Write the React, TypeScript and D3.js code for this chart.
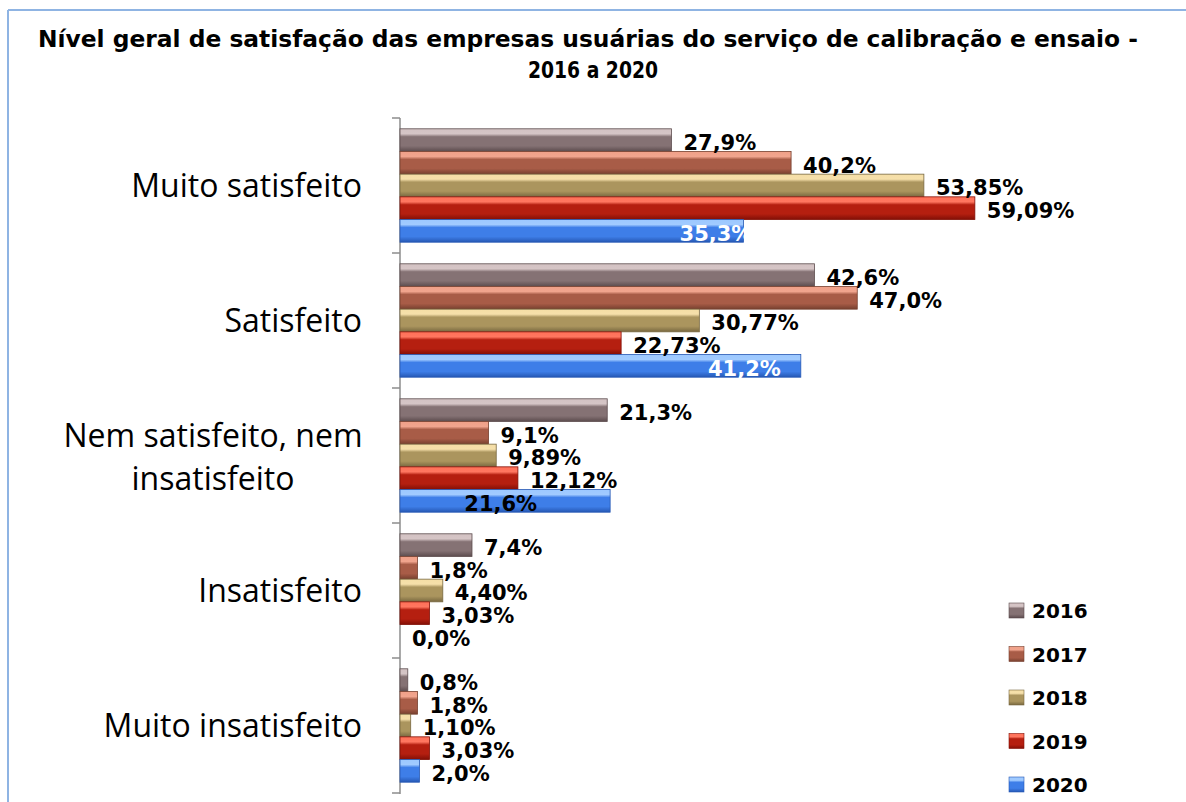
import React from "react";
import * as d3 from "d3";

const TITLE_LINES = [
  "Nível geral de satisfação das empresas usuárias do serviço de calibração e ensaio -",
  "2016 a 2020",
];
const CATEGORIES = [
  ["Muito satisfeito"],
  ["Satisfeito"],
  ["Nem satisfeito, nem", "insatisfeito"],
  ["Insatisfeito"],
  ["Muito insatisfeito"],
];
const YEARS = ["2016", "2017", "2018", "2019", "2020"];
const V2016 = [27.9, 42.6, 21.3, 7.4, 0.8];
const V2017 = [40.2, 47.0, 9.1, 1.8, 1.8];
const V2018 = [53.85, 30.77, 9.89, 4.4, 1.1];
const V2019 = [59.09, 22.73, 12.12, 3.03, 3.03];
const V2020 = [35.3, 41.2, 21.6, 0.0, 2.0];
const SERIES = [V2016, V2017, V2018, V2019, V2020];
const DECIMALS = [1, 1, 2, 2, 1];

// styling (not data)
const COLORS = [
  { top: "#d3c2c3", mid: "#857274", bot: "#5c4c4e" },
  { top: "#f0a088", mid: "#a85c47", bot: "#77402f" },
  { top: "#f5dea6", mid: "#ab955e", bot: "#786840" },
  { top: "#ff7058", mid: "#b51f10", bot: "#820f06" },
  { top: "#9cc8ff", mid: "#3e7ee8", bot: "#2658b4" },
];
const TITLE_LAYOUT = [
  { x: 588, y: 47, len: 1100 },
  { x: 593, y: 78, len: 130 },
];
// special label placement for the 2020 series in some groups (dx from bar end, end-anchored)
const INSIDE_2020: Record<number, { dx: number; fill: string }> = {
  0: { dx: 9, fill: "#ffffff" },
  1: { dx: -20, fill: "#ffffff" },
  2: { dx: -73, fill: "#000000" },
};

const W = 1186;
const H = 802;
const AXIS_X = 400;

export default function App() {
  const catIdx = CATEGORIES.map((_, i) => String(i));
  const y0 = d3.scaleBand<string>().domain(catIdx).range([118, 793]).paddingInner(0.16).paddingOuter(0.08);
  const y1 = d3.scaleBand<string>().domain(YEARS).range([0, y0.bandwidth()]);
  const x = d3.scaleLinear().domain([0, 70]).range([AXIS_X, AXIS_X + 681]);
  const step = y0.step();
  const boundaries = d3.range(CATEGORIES.length + 1).map((i) => 118 + i * step);
  const fmt = (v: number, d: number) => v.toFixed(d).replace(".", ",") + "%";

  return (
    <svg width={W} height={H} style={{ position: "absolute", left: 0, top: 0, background: "#fff" }}>
      <defs>
        {COLORS.map((c, i) => (
          <linearGradient key={i} id={`g${i}`} x1="0" y1="0" x2="0" y2="1">
            <stop offset="0%" stopColor={c.top} />
            <stop offset="22%" stopColor={c.top} stopOpacity={0.95} />
            <stop offset="35%" stopColor={c.mid} />
            <stop offset="75%" stopColor={c.mid} />
            <stop offset="100%" stopColor={c.bot} />
          </linearGradient>
        ))}
      </defs>
      <rect x={0} y={0} width={W} height={H} fill="#fff" />
      {/* border */}
      <line x1={8} y1={10} x2={W} y2={10} stroke="#8fb4e3" strokeWidth={2} />
      <line x1={8} y1={10} x2={8} y2={H} stroke="#8fb4e3" strokeWidth={2} />

      {/* title */}
      {TITLE_LINES.map((t, i) => (
        <text
          key={i}
          x={TITLE_LAYOUT[i].x}
          y={TITLE_LAYOUT[i].y}
          textAnchor="middle"
          fontFamily="'DejaVu Sans', Verdana, sans-serif"
          fontWeight="bold"
          fontSize={23}
          textLength={TITLE_LAYOUT[i].len}
          lengthAdjust="spacingAndGlyphs"
          fill="#000"
        >
          {t}
        </text>
      ))}

      {/* axis */}
      <line x1={AXIS_X} y1={118} x2={AXIS_X} y2={794} stroke="#8c8c8c" strokeWidth={1.5} />
      {boundaries.map((b, i) => (
        <line key={i} x1={AXIS_X - 8} y1={b} x2={AXIS_X} y2={b} stroke="#8c8c8c" strokeWidth={1.5} />
      ))}

      {/* category labels */}
      {CATEGORIES.map((lines, ci) => {
        const c = 118 + ci * step + step / 2;
        const lh = 43;
        const firstBase = c - ((lines.length - 1) * lh) / 2 + 11;
        return (
          <g key={ci}>
            {lines.map((ln, li) => (
              <text
                key={li}
                x={lines.length > 1 ? 213 : 362}
                y={firstBase + li * lh + (lines.length > 1 ? 2 : 0)}
                textAnchor={lines.length > 1 ? "middle" : "end"}
                fontFamily="'Open Sans', sans-serif"
                fontSize={32}
                fill="#000"
              >
                {ln}
              </text>
            ))}
          </g>
        );
      })}

      {/* bars */}
      {CATEGORIES.map((_, ci) => (
        <g key={ci} transform={`translate(0,${y0(String(ci))})`}>
          {SERIES.map((vals, si) => {
            const v = vals[ci];
            const yy = y1(YEARS[si])!;
            const bh = y1.bandwidth();
            const xe = x(v);
            return v > 0 ? (
              <rect
                key={si}
                x={AXIS_X}
                y={yy}
                width={xe - AXIS_X}
                height={bh}
                fill={`url(#g${si})`}
                stroke={COLORS[si].bot}
                strokeWidth={0.8}
              />
            ) : null;
          })}
          {SERIES.map((vals, si) => {
            const v = vals[ci];
            const yy = y1(YEARS[si])!;
            const bh = y1.bandwidth();
            const xe = x(v);
            const special = si === 4 ? INSIDE_2020[ci] : undefined;
            return (
              <text
                key={"l" + si}
                x={special ? xe + special.dx : xe + 12}
                y={yy + bh / 2 + 3}
                dominantBaseline="central"
                textAnchor={special ? "end" : "start"}
                fontFamily="'DejaVu Sans', sans-serif"
                fontWeight="bold"
                fontSize={21}
                fill={special ? special.fill : "#000"}
              >
                {fmt(v, DECIMALS[si])}
              </text>
            );
          })}
        </g>
      ))}

      {/* legend */}
      {YEARS.map((yr, i) => {
        const cy = 611 + i * 43.5;
        return (
          <g key={yr}>
            <rect x={1009} y={cy - 8} width={15} height={15} fill={`url(#g${i})`} stroke={COLORS[i].bot} strokeWidth={0.6} />
            <text
              x={1032}
              y={cy}
              dominantBaseline="central"
              fontFamily="'DejaVu Sans', sans-serif"
              fontWeight="bold"
              fontSize={20}
              fill="#000"
            >
              {yr}
            </text>
          </g>
        );
      })}
    </svg>
  );
}
